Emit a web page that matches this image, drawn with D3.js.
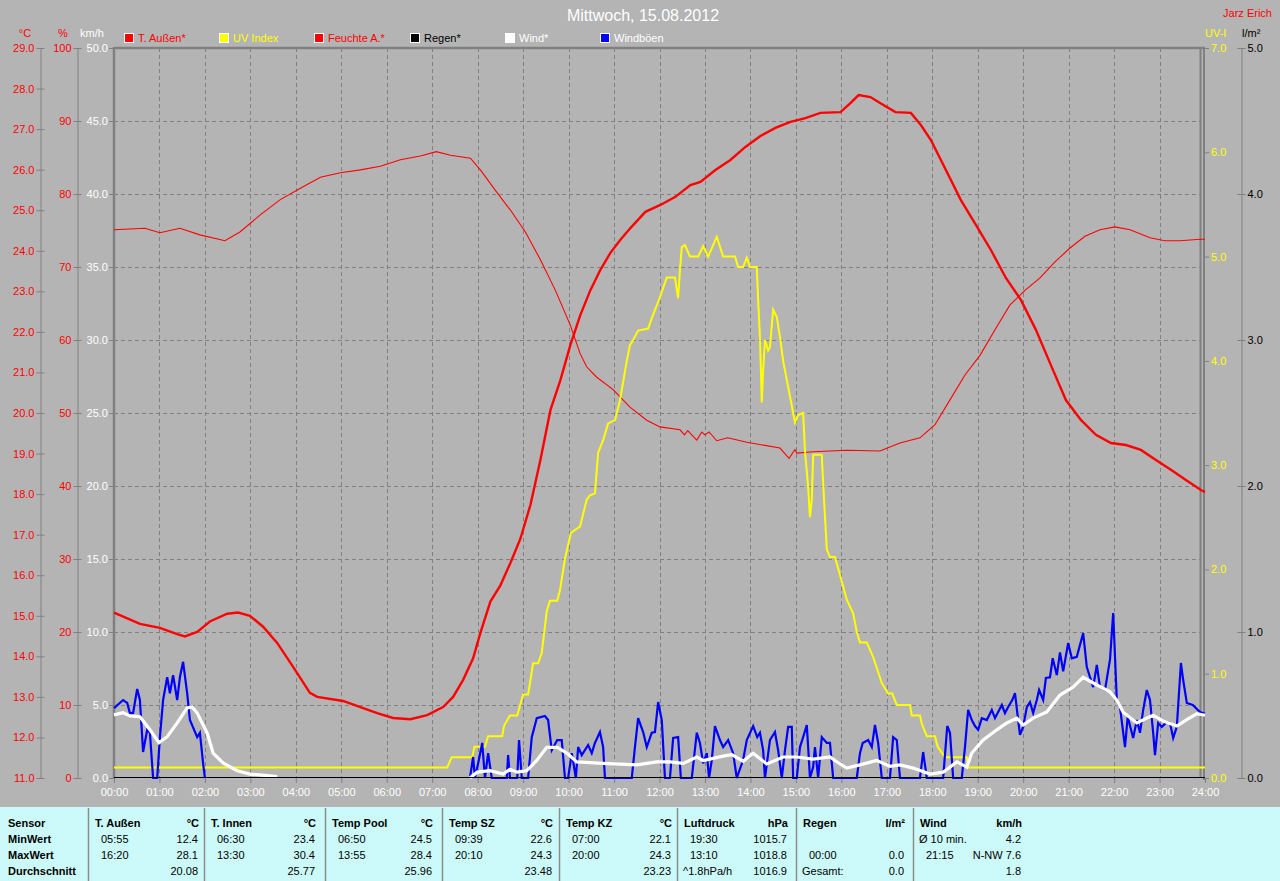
<!DOCTYPE html>
<html><head><meta charset="utf-8">
<script src="https://cdn.jsdelivr.net/npm/d3@7"></script>
<style>
html,body{margin:0;padding:0;background:#b4b4b4;}
svg{display:block;}
</style></head><body>
<svg id="chart" width="1280" height="881"></svg>
<script>
// ---------------- DATA ----------------
const chartTitle = "Mittwoch, 15.08.2012";
const author = "Jarz Erich";
const hourLabels = ["00:00","01:00","02:00","03:00","04:00","05:00","06:00","07:00","08:00","09:00","10:00","11:00","12:00","13:00","14:00","15:00","16:00","17:00","18:00","19:00","20:00","21:00","22:00","23:00","24:00"];
const hourTicks = [0,1,2,3,4,5,6,7,8,9,10,11,12,13,14,15,16,17,18,19,20,21,22,23,24];
const tempTicks = [11,12,13,14,15,16,17,18,19,20,21,22,23,24,25,26,27,28,29];
const humTicks = [0,10,20,30,40,50,60,70,80,90,100];
const windTicks = [0,5,10,15,20,25,30,35,40,45,50];
const uvTicks = [0,1,2,3,4,5,6,7];
const rainTicks = [0,1,2,3,4,5];

const legendLabels = ["T. Außen*","UV Index","Feuchte A.*","Regen*","Wind*","Windböen"];
const legendColors = ["#ff0000","#ffff00","#ff0000","#000000","#ffffff","#0000ff"];
const legendTextColors = ["#ff0000","#ffff00","#ff0000","#000000","#ffffff","#ffffff"];

// [hour, value]
const tempData = [[0,15.08],[0.57,14.80],[1.01,14.70],[1.39,14.55],[1.56,14.49],[1.83,14.60],[2.11,14.86],[2.49,15.05],[2.73,15.08],[2.99,15.0],[3.28,14.73],[3.59,14.33],[3.94,13.74],[4.31,13.10],[4.47,13.0],[5.04,12.9],[5.42,12.75],[5.79,12.6],[6.14,12.48],[6.52,12.45],[6.89,12.55],[7.24,12.75],[7.46,13.0],[7.68,13.42],[7.90,13.95],[8.06,14.58],[8.28,15.35],[8.50,15.75],[8.72,16.3],[8.94,16.9],[9.16,17.73],[9.38,18.84],[9.60,20.07],[9.82,20.81],[10.04,21.68],[10.26,22.42],[10.48,23.03],[10.70,23.53],[10.92,23.95],[11.14,24.27],[11.36,24.56],[11.69,24.96],[12.02,25.13],[12.35,25.33],[12.68,25.62],[12.90,25.70],[13.23,25.99],[13.56,26.24],[13.89,26.56],[14.22,26.83],[14.55,27.03],[14.88,27.18],[15.21,27.27],[15.54,27.40],[15.98,27.42],[16.20,27.64],[16.38,27.84],[16.64,27.79],[16.86,27.64],[17.19,27.42],[17.53,27.40],[17.75,27.10],[17.97,26.73],[18.30,25.99],[18.63,25.25],[18.96,24.64],[19.29,24.02],[19.62,23.33],[19.95,22.79],[20.28,22.05],[20.61,21.18],[20.94,20.32],[21.27,19.83],[21.60,19.46],[21.93,19.26],[22.26,19.21],[22.59,19.09],[22.92,18.84],[23.25,18.60],[23.58,18.35],[23.91,18.10],[24,18.05]];

const humData = [[0,75.1],[0.68,75.3],[1.01,74.7],[1.45,75.3],[1.89,74.4],[2.44,73.6],[2.77,74.8],[3.21,77.1],[3.65,79.2],[4.10,80.8],[4.54,82.3],[4.98,82.9],[5.42,83.3],[5.86,83.8],[6.30,84.7],[6.74,85.2],[7.09,85.8],[7.40,85.3],[7.84,84.9],[8.06,83.3],[8.39,80.5],[8.72,77.8],[9.05,74.8],[9.38,71.0],[9.71,66.8],[10.04,62.0],[10.25,58.2],[10.40,56.3],[10.62,54.9],[10.98,53.2],[11.35,50.8],[11.72,49.0],[12.01,48.1],[12.45,47.7],[12.55,47.0],[12.62,47.6],[12.82,46.3],[12.93,47.4],[13.0,47.0],[13.09,47.4],[13.26,46.2],[13.5,46.6],[13.92,46.0],[14.65,45.2],[14.85,43.8],[14.98,45.0],[15.02,44.5],[15.38,44.7],[16.12,44.9],[16.85,44.8],[17.29,45.9],[17.73,46.6],[18.06,48.4],[18.39,51.8],[18.72,55.2],[19.05,57.9],[19.38,61.4],[19.71,64.8],[20.04,66.8],[20.37,68.5],[20.70,70.7],[21.03,72.6],[21.36,74.2],[21.69,75.1],[22.02,75.5],[22.35,75.1],[22.79,74.0],[23.12,73.6],[23.45,73.6],[23.89,73.8],[24,73.8]];

const uvData = [[0,0.1],[7.33,0.1],[7.43,0.2],[7.88,0.2],[7.93,0.3],[8.16,0.3],[8.23,0.4],[8.54,0.4],[8.58,0.5],[8.71,0.6],[8.87,0.6],[9.00,0.8],[9.11,0.8],[9.22,1.1],[9.33,1.1],[9.41,1.2],[9.52,1.6],[9.59,1.7],[9.75,1.7],[9.81,1.8],[9.92,2.1],[10.05,2.35],[10.25,2.41],[10.40,2.67],[10.47,2.71],[10.58,2.73],[10.65,3.12],[10.76,3.24],[10.87,3.40],[11.02,3.43],[11.13,3.62],[11.28,4.0],[11.35,4.15],[11.42,4.2],[11.53,4.29],[11.75,4.31],[11.83,4.41],[12.01,4.61],[12.16,4.80],[12.34,4.80],[12.41,4.6],[12.45,4.87],[12.49,5.09],[12.56,5.11],[12.67,5.0],[12.85,5.0],[12.96,5.10],[13.07,5.0],[13.26,5.19],[13.40,5.0],[13.66,5.0],[13.73,4.90],[13.84,4.90],[13.92,4.99],[13.99,4.90],[14.14,4.90],[14.17,4.58],[14.21,4.23],[14.25,3.60],[14.28,3.91],[14.32,4.20],[14.39,4.10],[14.43,4.13],[14.50,4.49],[14.58,4.42],[14.65,4.23],[14.72,4.0],[14.83,3.75],[14.98,3.41],[15.05,3.48],[15.16,3.50],[15.20,3.14],[15.27,2.79],[15.31,2.50],[15.35,2.67],[15.38,3.10],[15.57,3.10],[15.60,2.83],[15.68,2.19],[15.75,2.12],[15.86,2.12],[16.12,1.71],[16.26,1.58],[16.34,1.40],[16.41,1.30],[16.56,1.30],[16.70,1.16],[16.89,0.91],[17.03,0.81],[17.12,0.81],[17.22,0.70],[17.51,0.70],[17.55,0.60],[17.73,0.60],[17.77,0.52],[17.88,0.40],[18.06,0.40],[18.12,0.30],[18.28,0.20],[18.76,0.20],[18.79,0.1],[24,0.1]];

const windData = [[0,4.32],[0.20,4.47],[0.35,4.25],[0.57,4.2],[0.79,3.3],[0.99,2.42],[1.17,2.83],[1.39,3.77],[1.61,4.8],[1.72,4.86],[1.83,4.45],[2.05,3.08],[2.18,1.71],[2.40,1.03],[2.71,0.50],[2.99,0.27],[3.43,0.14],[3.59,0.1],[3.6,null],[7.82,null],[7.83,0],[7.99,0.4],[8.27,0.5],[8.56,0.27],[8.71,0.6],[8.87,0.4],[9.08,0.5],[9.30,1.2],[9.52,2.1],[9.75,2.1],[9.96,1.71],[10.18,1.1],[10.76,1.0],[11.50,0.9],[11.94,1.1],[12.23,1.1],[12.52,1.0],[12.82,1.44],[12.96,1.2],[13.40,1.5],[13.59,1.6],[13.84,1.15],[14.06,1.7],[14.36,0.96],[14.72,1.44],[15.02,1.44],[15.38,1.3],[15.75,1.44],[15.97,0.96],[16.12,0.68],[16.41,0.9],[16.78,1.2],[17.07,0.8],[17.29,0.9],[17.58,0.68],[17.95,0.27],[18.24,0.4],[18.54,1.1],[18.76,0.75],[18.87,1.71],[19.12,2.6],[19.42,3.3],[19.64,3.77],[19.86,4.1],[20.00,3.63],[20.22,4.1],[20.52,4.52],[20.81,5.68],[21.10,6.23],[21.32,6.9],[21.62,6.37],[21.91,5.9],[22.06,5.34],[22.20,4.5],[22.50,3.77],[22.72,4.1],[22.86,4.3],[23.08,3.9],[23.38,3.56],[23.60,4.0],[23.82,4.4],[24,4.3]];

const gustData = [[0,4.79],[0.20,5.34],[0.29,5.14],[0.35,4.45],[0.42,4.45],[0.51,6.1],[0.57,5.34],[0.64,1.78],[0.73,3.3],[0.79,3.1],[0.86,0],[0.95,0],[1.01,2.8],[1.08,5.34],[1.17,6.9],[1.23,5.8],[1.30,7.05],[1.39,5.34],[1.45,6.9],[1.52,7.96],[1.61,5.8],[1.67,3.97],[1.83,2.8],[1.89,3.1],[1.96,1.0],[2.00,0],[2.01,null],[7.82,null],[7.83,0],[7.90,1.44],[7.94,0],[8.01,1.0],[8.10,2.4],[8.16,0],[8.23,1.7],[8.31,0],[8.64,0],[8.67,1.57],[8.71,0],[8.87,0],[8.91,2.6],[8.97,0],[9.11,0],[9.19,2.8],[9.30,4.1],[9.48,4.25],[9.55,3.97],[9.63,1.9],[9.75,2.6],[9.85,2.6],[9.92,0],[9.99,0],[10.07,1.7],[10.16,0],[10.21,2.12],[10.29,1.57],[10.43,2.26],[10.51,1.7],[10.58,2.4],[10.69,3.15],[10.76,2.12],[10.80,0],[11.39,0],[11.46,2.12],[11.53,4.1],[11.64,3.15],[11.72,2.12],[11.83,3.1],[11.90,3.15],[11.97,5.2],[12.05,3.97],[12.12,0],[12.23,0],[12.30,2.74],[12.41,2.8],[12.47,0],[12.71,0],[12.82,3.1],[12.89,2.4],[12.96,1.0],[13.04,1.7],[13.09,0],[13.15,1.23],[13.22,3.56],[13.33,2.6],[13.40,2.12],[13.51,2.6],[13.62,1.7],[13.70,0],[13.84,1.23],[13.92,2.6],[14.06,3.56],[14.15,2.8],[14.21,3.1],[14.28,1.9],[14.32,0],[14.43,2.6],[14.54,3.15],[14.61,1.9],[14.69,0],[14.76,1.9],[14.83,3.5],[14.91,3.5],[14.94,0],[15.02,0],[15.09,2.12],[15.16,2.8],[15.24,3.63],[15.27,2.12],[15.31,0],[15.38,0.75],[15.42,2.12],[15.49,0],[15.57,2.8],[15.68,2.4],[15.75,2.4],[15.82,0],[16.34,0],[16.41,1.7],[16.47,2.4],[16.59,2.6],[16.67,2.12],[16.74,3.63],[16.81,2.4],[16.89,0],[17.07,0],[17.14,2.8],[17.22,2.6],[17.29,0],[17.73,0],[17.80,1.78],[17.88,0],[18.24,0],[18.33,3.56],[18.39,3.1],[18.46,0],[18.65,0],[18.72,2.12],[18.79,4.66],[18.87,3.97],[18.94,3.56],[19.01,3.3],[19.09,4.1],[19.20,3.97],[19.31,4.66],[19.38,4.1],[19.53,5.0],[19.60,4.45],[19.67,4.86],[19.76,5.34],[19.82,5.82],[19.89,3.97],[19.93,2.95],[20.00,3.5],[20.08,4.86],[20.15,5.2],[20.22,4.45],[20.30,5.34],[20.35,6.03],[20.44,5.34],[20.50,6.85],[20.59,6.9],[20.65,8.2],[20.74,7.05],[20.81,8.6],[20.88,7.3],[20.99,9.25],[21.07,8.2],[21.18,8.3],[21.32,9.93],[21.40,7.6],[21.54,6.23],[21.62,7.74],[21.69,6.23],[21.80,6.03],[21.91,8.1],[21.98,11.3],[22.06,5.34],[22.13,4.86],[22.24,2.12],[22.30,4.2],[22.39,3.1],[22.42,2.74],[22.50,3.97],[22.57,3.1],[22.64,4.66],[22.72,6.03],[22.79,5.34],[22.86,3.1],[22.90,1.57],[22.97,3.77],[23.05,3.5],[23.16,3.84],[23.23,3.77],[23.30,2.74],[23.38,3.5],[23.47,7.88],[23.52,6.71],[23.60,5.14],[23.73,5.0],[23.89,4.52],[24,4.4]];

const rainData = [[0,0],[24,0]];

// table
const rowLabels = ["Sensor","MinWert","MaxWert","Durchschnitt"];
const sensorNames = ["T. Außen","T. Innen","Temp Pool","Temp SZ","Temp KZ","Luftdruck","Regen","Wind"];
const sensorUnits = ["°C","°C","°C","°C","°C","hPa","l/m²","km/h"];
const minRow = [["05:55","12.4"],["06:30","23.4"],["06:50","24.5"],["09:39","22.6"],["07:00","22.1"],["19:30","1015.7"],["",""],["Ø 10 min.","4.2"]];
const maxRow = [["16:20","28.1"],["13:30","30.4"],["13:55","28.4"],["20:10","24.3"],["20:00","24.3"],["13:10","1018.8"],["00:00","0.0"],["21:15","N-NW 7.6"]];
const avgRow = [["","20.08"],["","25.77"],["","25.96"],["","23.48"],["","23.23"],["^1.8hPa/h","1016.9"],["Gesamt:","0.0"],["","1.8"]];

// ---------------- DRAW ----------------
const FONT = "'Liberation Sans', Arial, sans-serif";
const GRAY = "#808080";
const svg = d3.select("#chart").attr("font-family", FONT);
svg.append("rect").attr("width",1280).attr("height",881).attr("fill","#b4b4b4");

const X0 = 114, X1 = 1205, Y0 = 778, Y1 = 48, XR = 1200;
const x = d3.scaleLinear().domain([0,24]).range([X0,X1]);
const yT = d3.scaleLinear().domain([11,29]).range([Y0,Y1]);
const yH = d3.scaleLinear().domain([0,100]).range([Y0,Y1]);
const yW = d3.scaleLinear().domain([0,50]).range([Y0,Y1]);
const yU = d3.scaleLinear().domain([0,7]).range([Y0,Y1]);
const yR = d3.scaleLinear().domain([0,5]).range([Y0,Y1]);

// grid
const grid = svg.append("g").attr("stroke",GRAY).attr("stroke-width",1).attr("stroke-dasharray","4,3");
grid.selectAll("line.h").data(windTicks.filter(v=>v>0 && v<50)).join("line")
  .attr("x1",X0).attr("x2",XR).attr("y1",d=>Math.round(yW(d))+0.5).attr("y2",d=>Math.round(yW(d))+0.5);
grid.selectAll("line.v").data(hourTicks.filter(h=>h>0 && h<24)).join("line")
  .attr("x1",d=>Math.round(x(d))+0.5).attr("x2",d=>Math.round(x(d))+0.5).attr("y1",Y1).attr("y2",Y0);

// axis styling helper
function style(g, textColor){
  g.attr("font-family",FONT).attr("font-size",11);
  g.select(".domain").attr("stroke",GRAY);
  g.selectAll(".tick line").attr("stroke",GRAY);
  g.selectAll(".tick text").attr("fill",textColor);
}
const f1 = d3.format(".1f");

// °C axis
const axT = svg.append("g").attr("transform","translate(40.5,0)")
  .call(d3.axisLeft(yT).tickValues(tempTicks).tickFormat(f1).tickSizeInner(4).tickSizeOuter(0).tickPadding(2));
axT.selectAll(".tick line").attr("x1",4);
style(axT,"#ff0000");
// % axis
const axH = svg.append("g").attr("transform","translate(77.5,0)")
  .call(d3.axisLeft(yH).tickValues(humTicks).tickFormat(d3.format("d")).tickSizeInner(4).tickSizeOuter(0).tickPadding(2));
axH.selectAll(".tick line").attr("x1",4);
style(axH,"#ff0000");
// km/h axis
const axW = svg.append("g").attr("transform","translate(114,0)")
  .call(d3.axisLeft(yW).tickValues(windTicks).tickFormat(f1).tickSizeInner(5).tickSizeOuter(0).tickPadding(1));
axW.select(".domain").remove();
style(axW,"#ffffff");
// UV axis
const axU = svg.append("g").attr("transform","translate(1204,0)")
  .call(d3.axisRight(yU).tickValues(uvTicks).tickFormat(f1).tickSizeInner(5).tickSizeOuter(0).tickPadding(2));
axU.select(".domain").remove();
style(axU,"#ffff00");
// l/m² axis
const axR = svg.append("g").attr("transform","translate(1241.5,0)")
  .call(d3.axisRight(yR).tickValues(rainTicks).tickFormat(f1).tickSizeInner(4).tickSizeOuter(0).tickPadding(2));
axR.selectAll(".tick line").attr("x1",-4);
style(axR,"#000000");
// x axis
const axX = svg.append("g").attr("transform",`translate(0,${Y0})`)
  .call(d3.axisBottom(x).tickValues(hourTicks).tickFormat((d,i)=>hourLabels[i]).tickSizeInner(5).tickSizeOuter(0).tickPadding(5));
axX.select(".domain").remove();
style(axX,"#ffffff");

// frame
svg.append("line").attr("x1",X0).attr("x2",X0).attr("y1",Y1-1).attr("y2",Y0).attr("stroke",GRAY).attr("stroke-width",2.5);
svg.append("line").attr("x1",X0).attr("x2",1205).attr("y1",Y1).attr("y2",Y1).attr("stroke",GRAY).attr("stroke-width",2.5);
svg.append("line").attr("x1",1200.5).attr("x2",1200.5).attr("y1",Y1).attr("y2",Y0).attr("stroke",GRAY).attr("stroke-width",2);
svg.append("line").attr("x1",1204).attr("x2",1204).attr("y1",Y1).attr("y2",Y0+2).attr("stroke",GRAY).attr("stroke-width",2);

// series
const mk = ys => d3.line().defined(d=>d[1]!==null).x(d=>x(d[0])).y(d=>ys(d[1]));
svg.append("path").datum(humData).attr("d",mk(yH)).attr("fill","none").attr("stroke","#ff0000").attr("stroke-width",1.1);
svg.append("path").datum(tempData).attr("d",mk(yT)).attr("fill","none").attr("stroke","#ff0000").attr("stroke-width",2.4);
svg.append("path").datum(uvData).attr("d",mk(yU)).attr("fill","none").attr("stroke","#ffff00").attr("stroke-width",2);
svg.append("path").datum(gustData).attr("d",mk(yW)).attr("fill","none").attr("stroke","#0000ff").attr("stroke-width",2.2);
svg.append("path").datum(windData).attr("d",mk(yW)).attr("fill","none").attr("stroke","#ffffff").attr("stroke-width",3.2);
svg.append("path").datum(rainData).attr("d",d3.line().x(d=>x(d[0])).y(d=>yR(d[1])-0.5)).attr("fill","none").attr("stroke","#000000").attr("stroke-width",1.2);

// title and labels
svg.append("text").attr("x",643).attr("y",21).attr("text-anchor","middle").attr("fill","#ffffff").attr("font-size",16).text(chartTitle);
svg.append("text").attr("x",1272).attr("y",17).attr("text-anchor","end").attr("fill","#ff0000").attr("font-size",11).text(author);
const hdr = [["°C",25,"#ff0000","middle"],["%",63,"#ff0000","middle"],["km/h",92,"#ffffff","middle"],["UV-I",1205,"#ffff00","start"],["l/m²",1242,"#000000","start"]];
svg.selectAll("text.hdr").data(hdr).join("text").attr("class","hdr")
  .attr("x",d=>d[1]).attr("y",37).attr("fill",d=>d[2]).attr("text-anchor",d=>d[3]).attr("font-size",11).text(d=>d[0]);

// legend
const lg = svg.append("g");
legendLabels.forEach((lab,i)=>{
  const lx = 124 + i*95.2;
  lg.append("rect").attr("x",Math.round(lx)+0.5).attr("y",33.5).attr("width",9).attr("height",9)
    .attr("fill",legendColors[i]).attr("stroke","#ffffff").attr("stroke-width",1);
  lg.append("text").attr("x",Math.round(lx)+14).attr("y",42).attr("fill",legendTextColors[i]).attr("font-size",11).text(lab);
});

// table
const TY = 807;
svg.append("rect").attr("x",0).attr("y",TY).attr("width",1280).attr("height",881-TY).attr("fill","#ccfafa");
const colLeft = [88,204,325,442,559,677,796,913];
const colRight = [199,316,433,553,672,788,905,1022];
colLeft.forEach(cx=>{
  svg.append("line").attr("x1",cx+0.5).attr("x2",cx+0.5).attr("y1",TY+1).attr("y2",881).attr("stroke","#8c8c8c").attr("stroke-width",1.5);
});
const rowY = [827,843,859,875];
rowLabels.forEach((r,i)=>{
  svg.append("text").attr("x",8).attr("y",rowY[i]).attr("font-size",11).attr("font-weight","bold").attr("fill","#000").text(r);
});
const rows = [minRow,maxRow,avgRow];
sensorNames.forEach((nm,c)=>{
  svg.append("text").attr("x",colLeft[c]+7).attr("y",rowY[0]).attr("font-size",11).attr("font-weight","bold").attr("fill","#000").text(nm);
  svg.append("text").attr("x",colRight[c]).attr("y",rowY[0]).attr("text-anchor","end").attr("font-size",11).attr("font-weight","bold").attr("fill","#000").text(sensorUnits[c]);
  rows.forEach((row,r)=>{
    const [t,v] = row[c];
    if (t) {
      const off = /^\d/.test(t) ? 13 : 6;
      svg.append("text").attr("x",colLeft[c]+off).attr("y",rowY[r+1]).attr("font-size",11).attr("fill","#000").text(t);
    }
    if (v) {
      svg.append("text").attr("x",colRight[c]-1).attr("y",rowY[r+1]).attr("text-anchor","end").attr("font-size",11).attr("fill","#000").text(v);
    }
  });
});
</script>
</body></html>
